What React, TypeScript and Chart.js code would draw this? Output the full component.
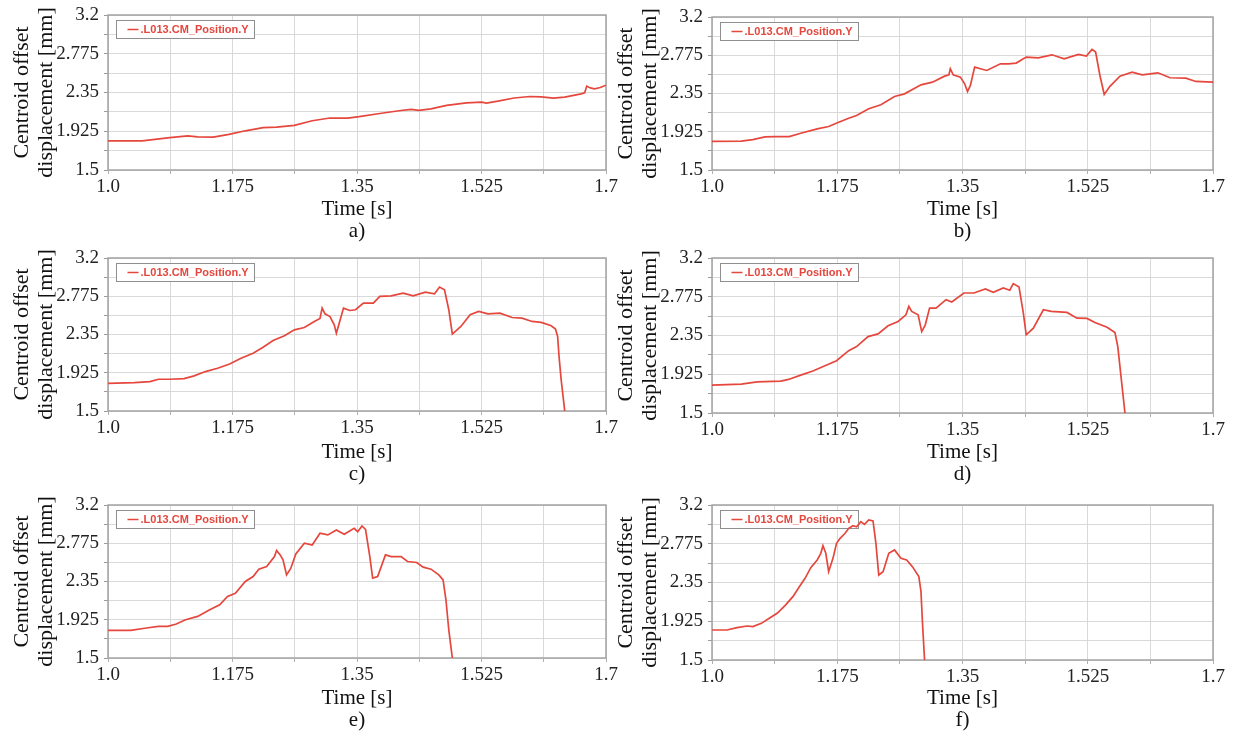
import React, { useEffect, useRef } from 'react';
import { Chart, registerables } from 'chart.js';

Chart.register(...registerables);

// ---------- axis definitions ----------
const X_MIN = 1.0;
const X_MAX = 1.7;
const X_STEP = 0.0875;
const Y_MIN = 1.5;
const Y_MAX = 3.2;
const Y_STEP = 0.2125;
const xTickLabels = ['1.0', '1.175', '1.35', '1.525', '1.7'];
const yTickLabels = ['1.5', '1.925', '2.35', '2.775', '3.2'];
const xTitle = 'Time [s]';
const yTitle = ['Centroid offset', 'displacement [mm]'];
const seriesLabel = '.L013.CM_Position.Y';
const captions = ['a)', 'b)', 'c)', 'd)', 'e)', 'f)'];

// ---------- data (time [s], displacement [mm]) ----------
const timeA = [1.0, 1.048, 1.087, 1.112, 1.126, 1.148, 1.17, 1.193, 1.218, 1.237, 1.262, 1.287, 1.312, 1.337, 1.353, 1.382, 1.409, 1.426, 1.437, 1.454, 1.476, 1.504, 1.525, 1.532, 1.548, 1.571, 1.593, 1.609, 1.626, 1.642, 1.665, 1.67, 1.673, 1.678, 1.684, 1.692, 1.7];
const dispA = [1.82, 1.82, 1.856, 1.874, 1.863, 1.86, 1.89, 1.93, 1.965, 1.97, 1.99, 2.04, 2.07, 2.07, 2.085, 2.12, 2.15, 2.165, 2.154, 2.17, 2.208, 2.237, 2.245, 2.234, 2.255, 2.29, 2.306, 2.303, 2.288, 2.3, 2.335, 2.346, 2.42, 2.4, 2.39, 2.405, 2.43];

const timeB = [1.0, 1.041, 1.057, 1.074, 1.088, 1.108, 1.124, 1.147, 1.163, 1.177, 1.191, 1.202, 1.219, 1.236, 1.255, 1.269, 1.292, 1.308, 1.325, 1.331, 1.333, 1.337, 1.347, 1.353, 1.357, 1.361, 1.367, 1.375, 1.384, 1.403, 1.414, 1.425, 1.439, 1.456, 1.475, 1.492, 1.512, 1.523, 1.531, 1.536, 1.542, 1.548, 1.556, 1.57, 1.587, 1.601, 1.623, 1.64, 1.662, 1.676, 1.7];
const dispB = [1.819, 1.82, 1.838, 1.867, 1.871, 1.871, 1.908, 1.957, 1.983, 2.03, 2.075, 2.105, 2.18, 2.224, 2.317, 2.346, 2.446, 2.476, 2.543, 2.558, 2.625, 2.558, 2.532, 2.458, 2.372, 2.44, 2.643, 2.625, 2.606, 2.68, 2.68, 2.688, 2.755, 2.747, 2.78, 2.736, 2.784, 2.766, 2.84, 2.81, 2.55, 2.34, 2.43, 2.543, 2.588, 2.558, 2.58, 2.525, 2.52, 2.484, 2.476];

const timeC = [1.0, 1.037, 1.059, 1.071, 1.087, 1.107, 1.121, 1.137, 1.154, 1.171, 1.187, 1.204, 1.218, 1.232, 1.248, 1.262, 1.276, 1.29, 1.298, 1.301, 1.305, 1.312, 1.318, 1.321, 1.325, 1.331, 1.34, 1.348, 1.359, 1.373, 1.382, 1.398, 1.415, 1.429, 1.446, 1.459, 1.466, 1.473, 1.479, 1.484, 1.496, 1.509, 1.521, 1.534, 1.551, 1.568, 1.582, 1.596, 1.609, 1.623, 1.629, 1.632, 1.634, 1.637, 1.642];
const dispC = [1.808, 1.815, 1.827, 1.853, 1.853, 1.86, 1.89, 1.938, 1.975, 2.023, 2.087, 2.142, 2.209, 2.283, 2.335, 2.402, 2.428, 2.495, 2.528, 2.643, 2.58, 2.55, 2.458, 2.365, 2.476, 2.643, 2.617, 2.625, 2.699, 2.699, 2.773, 2.78, 2.81, 2.78, 2.821, 2.803, 2.877, 2.847, 2.625, 2.354, 2.439, 2.569, 2.606, 2.58, 2.588, 2.539, 2.532, 2.495, 2.484, 2.447, 2.41, 2.328, 2.105, 1.845, 1.5];

const timeD = [1.0, 1.041, 1.063, 1.096, 1.107, 1.124, 1.141, 1.157, 1.174, 1.191, 1.202, 1.218, 1.232, 1.246, 1.26, 1.271, 1.275, 1.279, 1.288, 1.293, 1.298, 1.304, 1.313, 1.327, 1.335, 1.352, 1.366, 1.382, 1.393, 1.407, 1.416, 1.421, 1.429, 1.435, 1.439, 1.449, 1.463, 1.474, 1.496, 1.51, 1.524, 1.535, 1.552, 1.563, 1.567, 1.571, 1.577];
const dispD = [1.805, 1.816, 1.842, 1.849, 1.868, 1.915, 1.96, 2.015, 2.074, 2.184, 2.228, 2.338, 2.368, 2.456, 2.504, 2.577, 2.669, 2.614, 2.577, 2.393, 2.467, 2.65, 2.65, 2.743, 2.717, 2.816, 2.816, 2.86, 2.824, 2.871, 2.846, 2.919, 2.882, 2.596, 2.357, 2.43, 2.632, 2.614, 2.603, 2.54, 2.537, 2.493, 2.441, 2.382, 2.228, 1.934, 1.5];

const timeE = [1.0, 1.032, 1.054, 1.071, 1.084, 1.096, 1.109, 1.126, 1.143, 1.157, 1.168, 1.179, 1.193, 1.204, 1.212, 1.223, 1.234, 1.237, 1.242, 1.246, 1.251, 1.257, 1.264, 1.276, 1.287, 1.298, 1.309, 1.321, 1.332, 1.346, 1.351, 1.357, 1.362, 1.368, 1.372, 1.379, 1.39, 1.398, 1.412, 1.421, 1.434, 1.443, 1.454, 1.465, 1.471, 1.475, 1.479, 1.484];
const dispE = [1.807, 1.807, 1.833, 1.851, 1.851, 1.877, 1.925, 1.962, 2.036, 2.091, 2.184, 2.22, 2.35, 2.405, 2.487, 2.516, 2.627, 2.694, 2.646, 2.59, 2.424, 2.498, 2.657, 2.775, 2.756, 2.886, 2.868, 2.923, 2.875, 2.941, 2.904, 2.967, 2.93, 2.627, 2.387, 2.405, 2.646, 2.627, 2.627, 2.572, 2.561, 2.509, 2.487, 2.424, 2.368, 2.147, 1.814, 1.5];

const timeF = [1.0, 1.021, 1.035, 1.049, 1.057, 1.069, 1.08, 1.091, 1.102, 1.113, 1.122, 1.13, 1.138, 1.147, 1.152, 1.155, 1.159, 1.163, 1.169, 1.174, 1.179, 1.186, 1.191, 1.197, 1.202, 1.208, 1.213, 1.219, 1.225, 1.229, 1.233, 1.239, 1.247, 1.255, 1.264, 1.272, 1.28, 1.289, 1.292, 1.294, 1.297];
const dispF = [1.829, 1.829, 1.855, 1.873, 1.866, 1.902, 1.957, 2.012, 2.096, 2.195, 2.304, 2.396, 2.513, 2.597, 2.67, 2.754, 2.67, 2.469, 2.615, 2.78, 2.835, 2.89, 2.944, 2.973, 2.962, 3.017, 2.988, 3.036, 3.025, 2.78, 2.432, 2.469, 2.67, 2.707, 2.615, 2.597, 2.524, 2.414, 2.25, 1.92, 1.5];

const seriesTimes = [timeA, timeB, timeC, timeD, timeE, timeF];
const seriesDisp = [dispA, dispB, dispC, dispD, dispE, dispF];

// ---------- styling / layout ----------
const RED = '#e5473d';
const GRID = '#d9d9d9';
const FRAME = '#a3a3a3';
const SERIF = '"Liberation Serif", "Times New Roman", Times, serif';

type PanelLayout = { left: number; top: number; width: number; height: number; padTop: number; padRight: number; xAxisH: number };
const layouts: PanelLayout[] = [
  { left: 0, top: 0, width: 622, height: 242, padTop: 15, padRight: 16, xAxisH: 72 },
  { left: 604, top: 0, width: 625, height: 242, padTop: 17, padRight: 16, xAxisH: 72 },
  { left: 0, top: 243, width: 622, height: 242, padTop: 15, padRight: 16, xAxisH: 74 },
  { left: 604, top: 243, width: 625, height: 242, padTop: 15, padRight: 16, xAxisH: 72 },
  { left: 0, top: 490, width: 622, height: 241, padTop: 15, padRight: 16, xAxisH: 73 },
  { left: 604, top: 490, width: 625, height: 241, padTop: 15, padRight: 16, xAxisH: 71 },
];
const Y_AXIS_W = 108;

const frameLegendPlugin = {
  id: 'frameLegend',
  beforeDatasetsDraw(chart: any) {
    const { ctx, chartArea: a } = chart;
    ctx.save();
    ctx.strokeStyle = FRAME;
    ctx.lineWidth = 1.5;
    ctx.strokeRect(a.left, a.top, a.right - a.left, a.bottom - a.top);

    const label = chart.data.datasets[0].label as string;
    ctx.font = 'bold 11px "Liberation Sans", Arial, sans-serif';
    const tw = ctx.measureText(label).width;
    const bx = Math.round(a.left + 8) + 0.5;
    const by = Math.round(a.top + 5) + 0.5;
    const bh = 18;
    const padL = 11;
    const lineW = 11;
    const gap = 2;
    const padR = 6;
    const bw = Math.round(padL + lineW + gap + tw + padR);
    ctx.fillStyle = '#ffffff';
    ctx.fillRect(bx, by, bw, bh);
    ctx.strokeStyle = '#8f8f8f';
    ctx.lineWidth = 1;
    ctx.strokeRect(bx, by, bw, bh);
    ctx.strokeStyle = RED;
    ctx.lineWidth = 1.5;
    ctx.beginPath();
    ctx.moveTo(bx + padL, by + bh / 2);
    ctx.lineTo(bx + padL + lineW, by + bh / 2);
    ctx.stroke();
    ctx.fillStyle = RED;
    ctx.textBaseline = 'middle';
    ctx.textAlign = 'left';
    ctx.fillText(label, bx + padL + lineW + gap, by + bh / 2 + 0.5);
    ctx.restore();
  },
};

function Panel({ index }: { index: number }) {
  const ref = useRef<HTMLCanvasElement | null>(null);
  const lay = layouts[index];

  useEffect(() => {
    if (!ref.current) return;
    const times = seriesTimes[index];
    const disp = seriesDisp[index];
    const n = Math.min(times.length, disp.length);
    const points = [];
    for (let i = 0; i < n; i++) points.push({ x: times[i], y: disp[i] });

    const chart = new Chart(ref.current, {
      type: 'line',
      data: {
        datasets: [
          {
            label: seriesLabel,
            data: points,
            borderColor: RED,
            backgroundColor: RED,
            borderWidth: 1.7,
            pointRadius: 0,
            tension: 0,
            fill: false,
          },
        ],
      },
      options: {
        responsive: false,
        animation: false,
        devicePixelRatio: 1,
        layout: { padding: { top: lay.padTop, right: lay.padRight, left: 0, bottom: 0 } },
        plugins: { legend: { display: false }, tooltip: { enabled: false }, title: { display: false } },
        scales: {
          x: {
            type: 'linear',
            min: X_MIN,
            max: X_MAX,
            ticks: {
              stepSize: X_STEP,
              autoSkip: false,
              maxRotation: 0,
              minRotation: 0,
              padding: 2,
              color: '#222',
              font: { family: SERIF, size: 19 },
              callback: (_v: any, i: number) => (i % 2 === 0 ? xTickLabels[i / 2] : ''),
            },
            grid: { color: GRID, lineWidth: 1, drawTicks: true, tickLength: 4, tickColor: '#b0b0b0' },
            border: { display: false },
            title: {
              display: true,
              text: [xTitle, captions[index]],
              color: '#111',
              font: { family: SERIF, size: 21, lineHeight: 22 / 21 },
              padding: 0,
            },
            afterFit: (s: any) => {
              s.height = lay.xAxisH;
              s.paddingLeft = 0;
              s.paddingRight = 0;
            },
          },
          y: {
            type: 'linear',
            min: Y_MIN,
            max: Y_MAX,
            ticks: {
              stepSize: Y_STEP,
              autoSkip: false,
              padding: 5,
              color: '#222',
              font: { family: SERIF, size: 19 },
              callback: (_v: any, i: number) => (i % 2 === 0 ? yTickLabels[i / 2] : ''),
            },
            grid: { color: GRID, lineWidth: 1, drawTicks: true, tickLength: 4, tickColor: '#9a9a9a' },
            border: { display: false },
            title: {
              display: true,
              text: yTitle,
              color: '#111',
              font: { family: SERIF, size: 22, lineHeight: 24 / 22 },
              padding: { top: 10, bottom: 0 },
            },
            afterFit: (s: any) => {
              s.width = Y_AXIS_W;
              s.paddingTop = 0;
              s.paddingBottom = 0;
            },
          },
        },
      },
      plugins: [frameLegendPlugin],
    } as any);
    return () => chart.destroy();
  }, [index]);

  return (
    <canvas
      ref={ref}
      width={lay.width}
      height={lay.height}
      style={{ position: 'absolute', left: lay.left, top: lay.top, width: lay.width, height: lay.height }}
    />
  );
}

export default function App() {
  return (
    <div style={{ position: 'absolute', left: 0, top: 0, width: 1235, height: 735, background: '#ffffff', overflow: 'hidden' }}>
      {captions.map((_c, i) => (
        <Panel key={i} index={i} />
      ))}
    </div>
  );
}
